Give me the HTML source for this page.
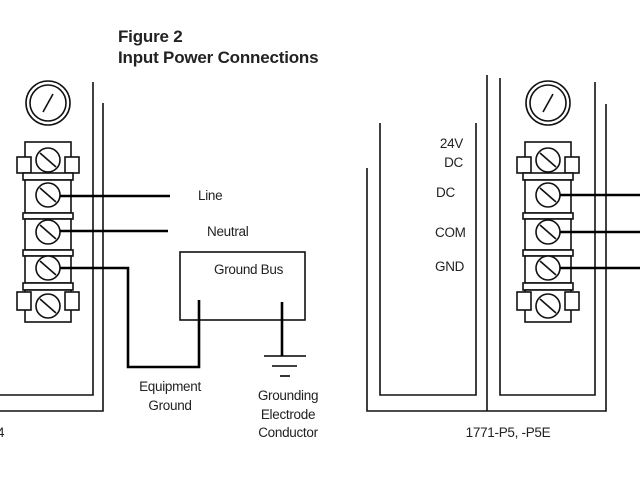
<!DOCTYPE html>
<html><head><style>body{margin:0;background:#fff}svg{display:block}text{font-family:"Liberation Sans",sans-serif;fill:#222}</style></head>
<body>
<svg width="640" height="480" viewBox="0 0 640 480" xmlns="http://www.w3.org/2000/svg">
<defs>
<g id="blk" stroke="#111" fill="#fff" stroke-width="1.6">
  <circle cx="0" cy="-57" r="22"/><circle cx="0" cy="-57" r="18"/>
  <line x1="-5" y1="-48" x2="5" y2="-66"/>
  <rect x="-23" y="-18" width="46" height="34"/>
  <rect x="-31" y="-3" width="14" height="16"/><rect x="17" y="-3" width="14" height="16"/>
  <rect x="-25" y="13" width="50" height="7"/>
  <rect x="-23" y="20" width="46" height="33"/>
  <rect x="-25" y="53" width="50" height="6"/>
  <rect x="-23" y="59" width="46" height="31"/>
  <rect x="-25" y="90" width="50" height="6"/>
  <rect x="-23" y="96" width="46" height="27"/>
  <rect x="-25" y="123" width="50" height="7"/>
  <rect x="-23" y="130" width="46" height="32"/>
  <rect x="-31" y="132" width="14" height="18"/><rect x="17" y="132" width="14" height="18"/>
</g>
</defs>
<text x="118" y="42" font-size="17" font-weight="bold" letter-spacing="-0.2">Figure 2</text>
<text x="118" y="63" font-size="17" font-weight="bold" letter-spacing="-0.2">Input Power Connections</text>

<g stroke="#111" stroke-width="1.6" fill="none">
<polyline points="93,82 93,395 0,395"/>
<polyline points="103,103 103,411 0,411"/>
<polyline points="367,168 367,411 606,411 606,104"/>
<polyline points="380,123 380,395 476,395 476,123"/>
<line x1="487" y1="75" x2="487" y2="411"/>
<polyline points="500,78 500,395 595,395 595,82"/>
<rect x="180" y="252" width="125" height="68"/>
</g>
<g transform="translate(48,160)"><use href="#blk"/></g>
<g transform="translate(548,160)"><use href="#blk"/></g>
<g stroke="#111" stroke-width="1.6" fill="#fff">
<circle cx="48" cy="160" r="12"/><line x1="40" y1="153" x2="56" y2="167"/>
<circle cx="48" cy="195" r="12"/><line x1="40" y1="188" x2="56" y2="202"/>
<circle cx="48" cy="232" r="12"/><line x1="40" y1="225" x2="56" y2="239"/>
<circle cx="48" cy="268" r="12"/><line x1="40" y1="261" x2="56" y2="275"/>
<circle cx="48" cy="306" r="12"/><line x1="40" y1="299" x2="56" y2="313"/>
<circle cx="548" cy="160" r="12"/><line x1="540" y1="153" x2="556" y2="167"/>
<circle cx="548" cy="195" r="12"/><line x1="540" y1="188" x2="556" y2="202"/>
<circle cx="548" cy="232" r="12"/><line x1="540" y1="225" x2="556" y2="239"/>
<circle cx="548" cy="268" r="12"/><line x1="540" y1="261" x2="556" y2="275"/>
<circle cx="548" cy="306" r="12"/><line x1="540" y1="299" x2="556" y2="313"/>
</g>
<g stroke="#000" stroke-width="2.6" fill="none">
<line x1="60" y1="196" x2="170" y2="196"/>
<line x1="60" y1="231" x2="168" y2="231"/>
<polyline points="60,268 128,268 128,367 199,367 199,300"/>
<line x1="282" y1="302" x2="282" y2="356"/>
<line x1="560" y1="195" x2="640" y2="195"/>
<line x1="560" y1="232" x2="640" y2="232"/>
<line x1="560" y1="268" x2="640" y2="268"/>
</g>
<g stroke="#000" stroke-width="1.6">
<line x1="264" y1="356" x2="306" y2="356"/>
<line x1="272" y1="366" x2="297" y2="366"/>
<line x1="280" y1="376" x2="290" y2="376"/>
</g>
<g font-size="13.5" letter-spacing="-0.3">
<text x="198" y="200">Line</text>
<text x="207" y="236">Neutral</text>
<text x="214" y="274">Ground Bus</text>
<text x="170" y="391" text-anchor="middle">Equipment</text>
<text x="170" y="410" text-anchor="middle">Ground</text>
<text x="288" y="400" text-anchor="middle">Grounding</text>
<text x="288" y="419" text-anchor="middle">Electrode</text>
<text x="288" y="437" text-anchor="middle">Conductor</text>
<text x="463" y="148" text-anchor="end">24V</text>
<text x="463" y="167" text-anchor="end">DC</text>
<text x="436" y="197">DC</text>
<text x="435" y="237">COM</text>
<text x="435" y="271">GND</text>
<text x="508" y="437" text-anchor="middle">1771-P5, -P5E</text>
<text x="-3" y="437">4</text>
</g>
</svg>
</body></html>
